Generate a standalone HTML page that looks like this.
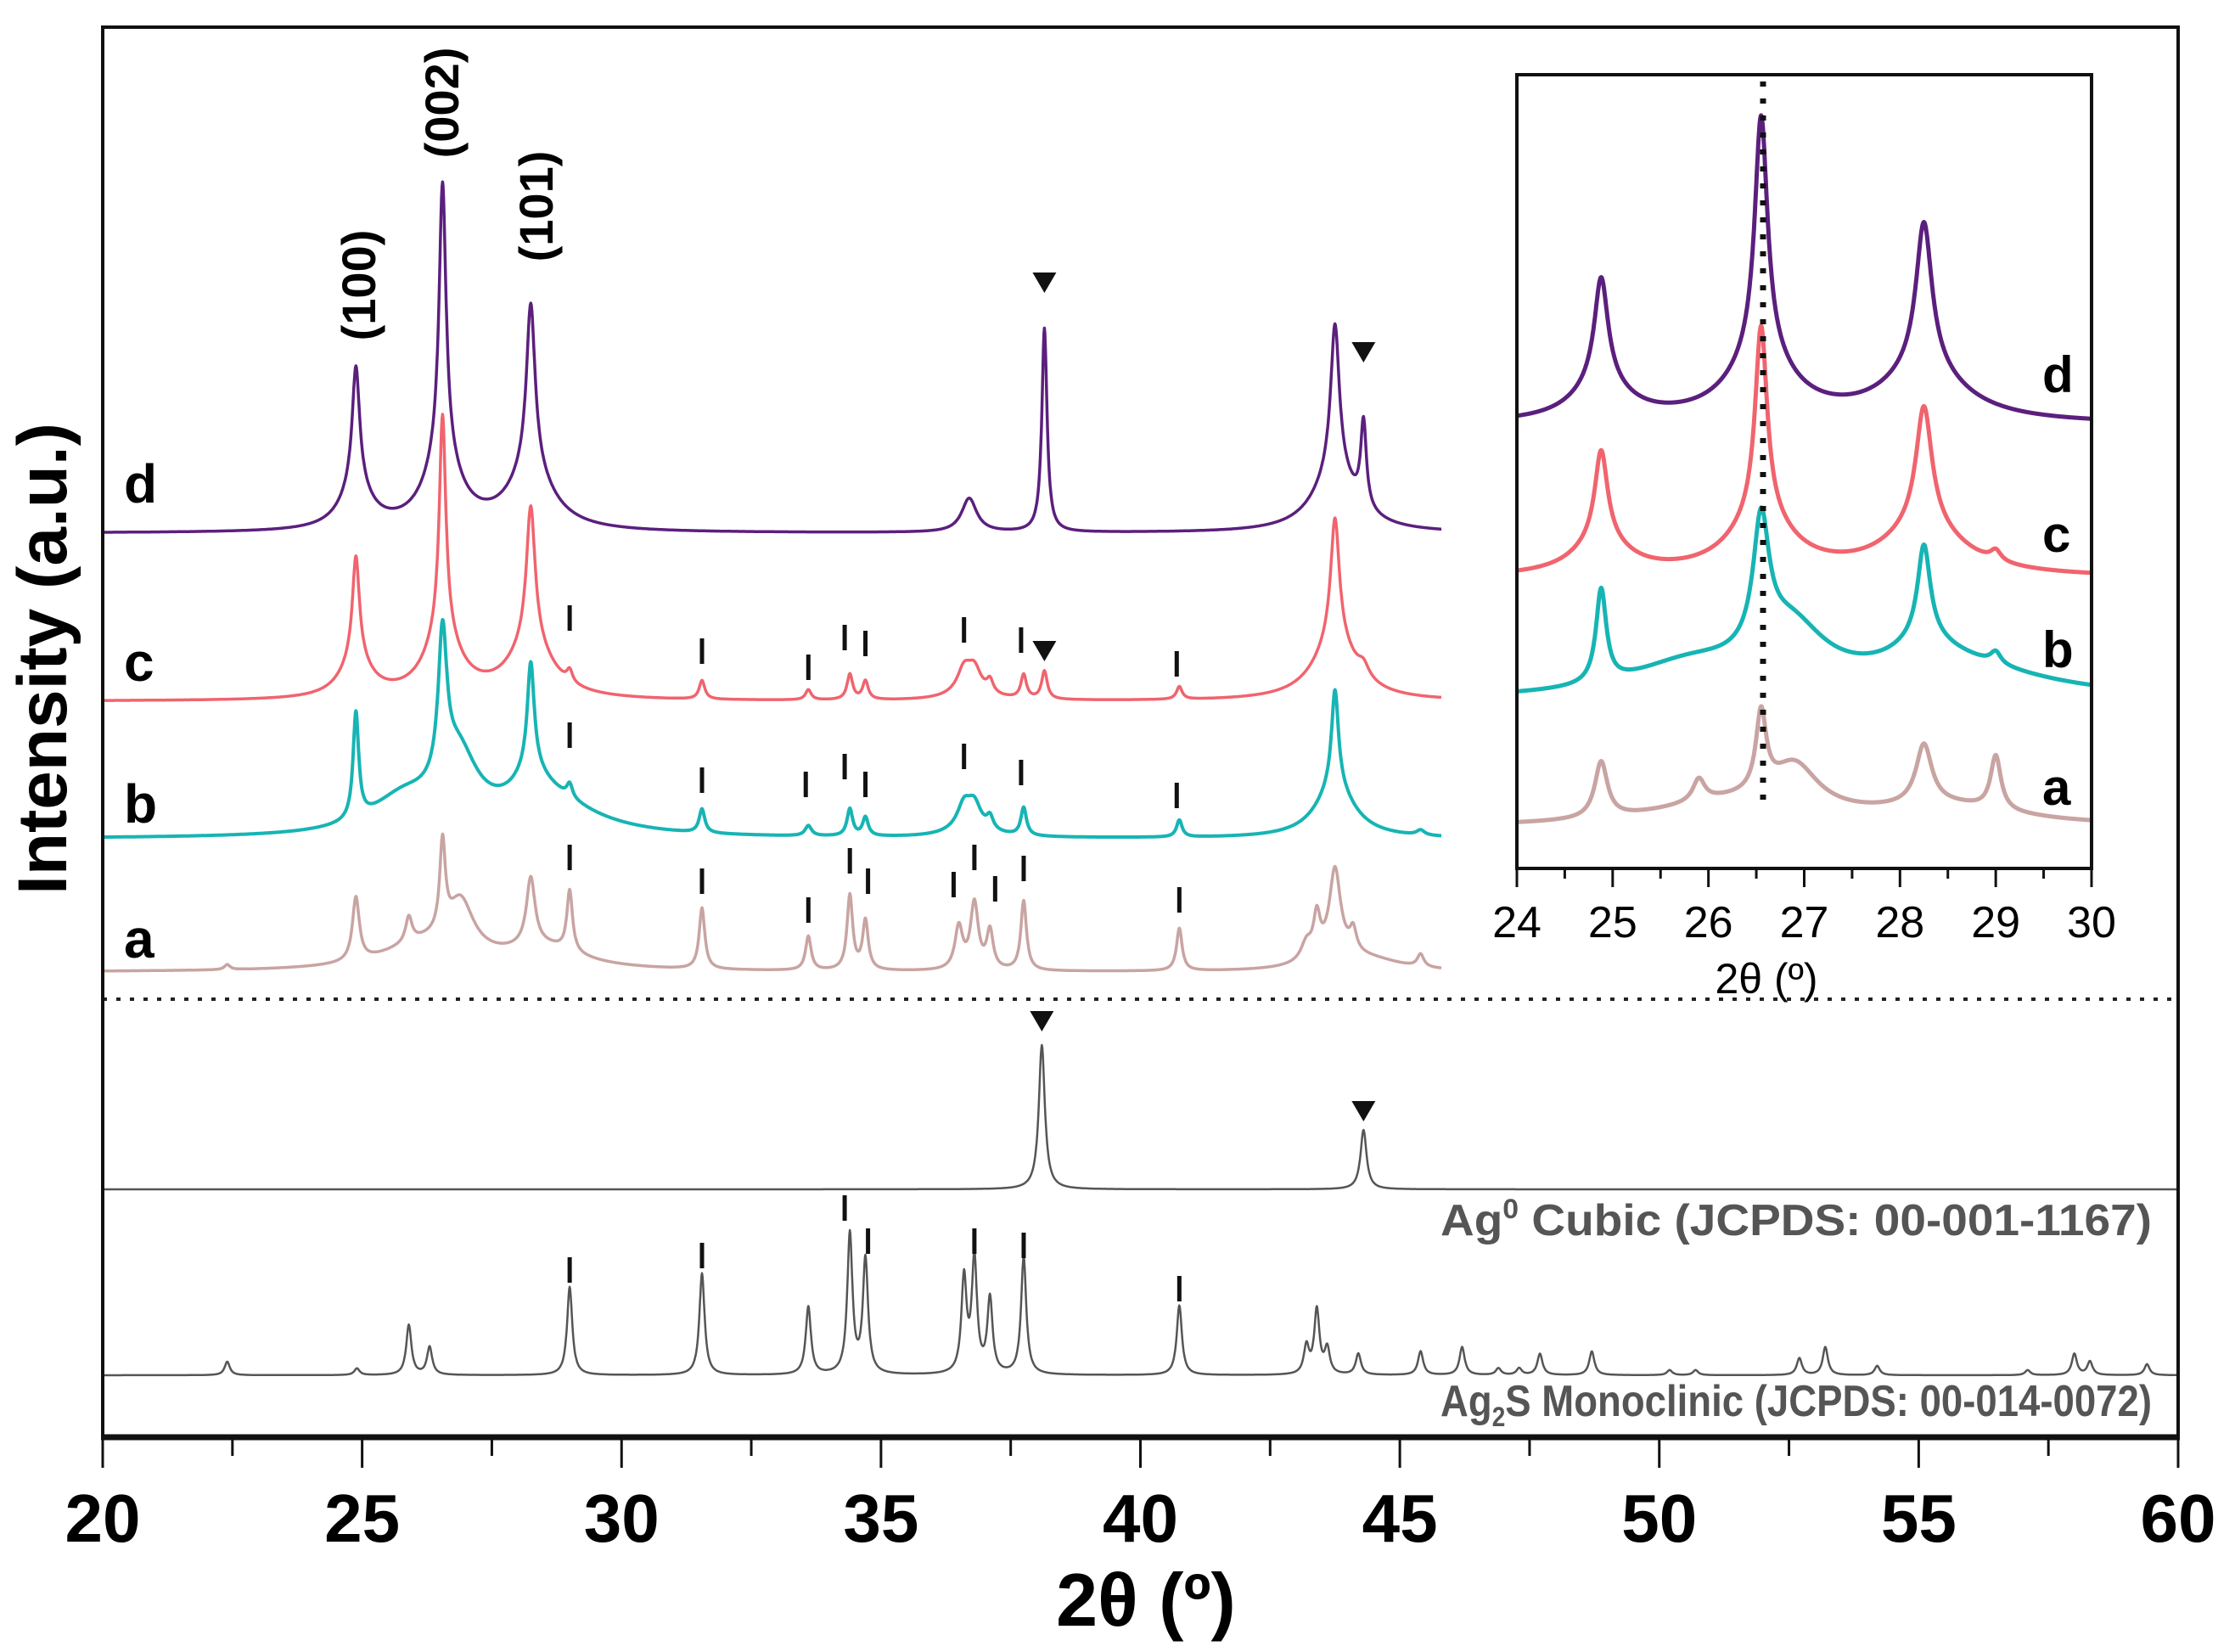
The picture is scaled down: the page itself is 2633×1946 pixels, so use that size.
<!DOCTYPE html>
<html><head><meta charset="utf-8"><style>
html,body{margin:0;padding:0;background:#fff;}
svg{display:block;font-family:"Liberation Sans",Arial,sans-serif;}
</style></head><body>
<svg id="chart" xmlns="http://www.w3.org/2000/svg" width="2633" height="1946" viewBox="0 0 2633 1946">
<rect x="0" y="0" width="2633" height="1946" fill="#fff"/>
<g id="main-series"></g>
<g id="marks"></g>
<line x1="121" y1="1177" x2="2566" y2="1177" stroke="#222" stroke-width="4" stroke-dasharray="5 11"/>
<rect x="121" y="32" width="2445" height="1661" fill="none" stroke="#111" stroke-width="4"/>
<line x1="119" y1="1693" x2="2568" y2="1693" stroke="#111" stroke-width="7"/>
<g id="xticks"></g>
<text x="1350" y="1915" font-size="88" font-weight="bold" text-anchor="middle">2θ (º)</text>
<text transform="translate(78,776) rotate(-90)" font-size="82" font-weight="bold" text-anchor="middle">Intensity (a.u.)</text>
<g font-size="64" font-weight="bold">
<text x="146" y="592">d</text>
<text x="146" y="802">c</text>
<text x="146" y="969">b</text>
<text x="146" y="1128">a</text>
</g>
<g font-size="56" font-weight="bold" text-anchor="middle">
<text transform="translate(442,336) rotate(-90)">(100)</text>
<text transform="translate(540,121) rotate(-90)">(002)</text>
<text transform="translate(651,243) rotate(-90)">(101)</text>
</g>
<text x="1697" y="1455" font-size="52" font-weight="bold" fill="#555" textLength="838" lengthAdjust="spacingAndGlyphs">Ag<tspan font-size="32" dy="-20">0</tspan><tspan dy="20"> Cubic (JCPDS: 00-001-1167)</tspan></text>
<text x="1697" y="1668" font-size="52" font-weight="bold" fill="#555" textLength="838" lengthAdjust="spacingAndGlyphs">Ag<tspan font-size="32" dy="12">2</tspan><tspan dy="-12">S Monoclinic (JCPDS: 00-014-0072)</tspan></text>
<g id="inset">
<rect x="1787" y="88" width="677" height="935" fill="#fff"/>
<g id="inset-series"></g>
<line x1="2077" y1="96" x2="2077" y2="955" stroke="#111" stroke-width="7" stroke-dasharray="6 14"/>
<rect x="1787" y="88" width="677" height="935" fill="none" stroke="#111" stroke-width="4"/>
<g id="inset-ticks"></g>
<text x="2081" y="1170" font-size="50" text-anchor="middle">2θ (º)</text>
<g font-size="60" font-weight="bold">
<text x="2406" y="462">d</text>
<text x="2406" y="650">c</text>
<text x="2406" y="786">b</text>
<text x="2406" y="948">a</text>
</g>
</g>
</svg>
<script>
// peak lists: [2theta, amplitude, fwhm]
const peaksD = [[24.88,140,0.17],[24.88,50,0.7],[26.55,320,0.16],[26.55,85,0.8],[28.25,195,0.2],[28.25,70,1.0],[36.7,40,0.35],[38.15,240,0.12],[43.75,175,0.2],[43.75,70,1.0],[44.3,100,0.13]];
const peaksC = [[24.88,120,0.16],[24.88,45,0.7],[26.55,255,0.15],[26.55,75,0.8],[28.25,160,0.2],[28.25,65,1.0],[29.0,14,0.13],[31.55,22,0.13],[33.6,12,0.13],[34.4,30,0.13],[34.7,22,0.13],[36.6,25,0.3],[36.8,25,0.3],[36.7,12,0.8],[37.1,15,0.15],[37.75,28,0.13],[38.15,33,0.13],[40.75,15,0.13],[43.75,145,0.2],[43.75,70,1.0],[44.3,14,0.25]];
const peaksB = [[24.88,125,0.13],[25.8,40,1.6],[26.55,170,0.2],[26.85,80,0.9],[28.25,125,0.16],[28.25,35,0.8],[28.6,40,2.2],[29.0,16,0.13],[31.55,28,0.13],[33.6,12,0.15],[34.4,32,0.13],[34.7,22,0.13],[36.6,25,0.3],[36.8,25,0.3],[36.7,14,0.8],[37.1,15,0.15],[37.75,33,0.13],[40.75,20,0.13],[43.75,115,0.16],[43.75,60,0.9],[45.4,6,0.18]];
const peaksA = [[22.4,6,0.13],[24.88,75,0.16],[25.9,30,0.15],[26.2,30,2.0],[26.55,105,0.13],[26.9,60,0.6],[28.25,80,0.2],[28.5,25,1.8],[29.0,72,0.13],[31.55,72,0.13],[33.6,40,0.13],[34.4,88,0.13],[34.7,58,0.13],[36.5,50,0.18],[36.8,78,0.18],[37.1,45,0.15],[37.75,82,0.13],[40.75,50,0.13],[43.2,20,0.25],[43.4,45,0.15],[43.75,95,0.25],[43.75,20,1.0],[44.1,25,0.15],[45.4,15,0.15],[44.5,10,1.5]];
const peaksCubic = [[38.1,170,0.14],[44.3,70,0.14]];
const peaksMono = [[22.4,16,0.12],[24.9,8,0.12],[25.9,59,0.12],[26.3,33,0.12],[29.0,104,0.12],[31.55,120,0.12],[33.6,80,0.12],[34.4,165,0.12],[34.7,135,0.12],[36.6,112,0.12],[36.8,134,0.12],[37.1,88,0.12],[37.75,138,0.12],[40.75,82,0.12],[43.2,33,0.12],[43.4,76,0.12],[43.6,30,0.12],[44.2,25,0.12],[45.4,28,0.12],[46.2,33,0.12],[46.9,8,0.12],[47.3,8,0.12],[47.7,25,0.12],[48.7,28,0.12],[50.2,6,0.12],[50.7,6,0.12],[52.7,20,0.12],[53.2,33,0.12],[54.2,11,0.12],[57.1,6,0.12],[58.0,25,0.12],[58.3,16,0.12],[59.4,13,0.12]];
// series baseline offsets (intensity units)
const offsetD = 1065, offsetC = 867, offsetB = 705, offsetA = 548, offsetCubic = 292, offsetMono = 73;
const insetOffsetD = 523, insetOffsetC = 342, insetOffsetB = 198, insetOffsetA = 48;
const insetScale = 0.88;
const xTickLabels = [20,25,30,35,40,45,50,55,60];
const insetTickLabels = [24,25,26,27,28,29,30];
// reference marker positions: [2theta, level above series baseline]
const marksC = [[29.0,83],[31.55,44],[33.6,25],[34.3,60],[34.7,53],[36.6,69],[37.7,57],[40.7,29]];
const marksB = [[29.0,107],[31.55,54],[33.55,49],[34.3,70],[34.7,49],[36.6,82],[37.7,63],[40.7,36]];
const marksA = [[29.0,120],[31.55,92],[33.6,58],[34.4,116],[34.75,92],[36.4,88],[36.8,120],[37.2,83],[37.75,107],[40.75,70]];
const marksMono = [[29.0,109],[31.55,126],[34.3,182],[34.75,143],[36.8,143],[37.75,138],[40.75,87]];
const trianglesD = [[38.15,296],[44.3,214]];
const trianglesC = [[38.15,60]];
const trianglesCubic = [[38.1,199],[44.3,93]];

const NS = 'http://www.w3.org/2000/svg';
const xMain = v => 121 + (v - 20) * 61.125;
const yMain = v => 1693 - v;
const xIn = v => 1787 + (v - 24) * 112.83;
const yIn = v => 1023 - v;
function intensity(peaks, t){
  let s = 0;
  for (const p of peaks){ const d = 2*(t-p[0])/p[2]; s += p[1]/(1+d*d); }
  return s;
}
function buildPath(peaks, off, x0, x1, step, xf, yf, scale){
  let d = '';
  for (let t = x0; t <= x1 + 1e-9; t += step){
    const v = off + scale * intensity(peaks, t);
    d += (d ? 'L' : 'M') + xf(t).toFixed(1) + ' ' + yf(v).toFixed(1);
  }
  return d;
}
const mainG = document.getElementById('main-series');
const mainDefs = [
  ['trace-a', peaksA, offsetA, '#c8a4a2', 45.8, 3.5],
  ['trace-b', peaksB, offsetB, '#17b4b4', 45.8, 4],
  ['trace-c', peaksC, offsetC, '#f0646e', 45.8, 3.5],
  ['trace-d', peaksD, offsetD, '#5b1f7d', 45.8, 3.5],
  ['ag-cubic-pattern', peaksCubic, offsetCubic, '#555', 60, 2.5],
  ['ag2s-monoclinic-pattern', peaksMono, offsetMono, '#555', 60, 2.5]
];
for (const s of mainDefs){
  const p = document.createElementNS(NS, 'path');
  p.setAttribute('d', buildPath(s[1], s[2], 20, s[4], 0.01, xMain, yMain, 1));
  p.setAttribute('fill', 'none');
  p.setAttribute('stroke', s[3]);
  p.setAttribute('stroke-width', s[5]);
  p.setAttribute('stroke-linejoin', 'round');
  
  
  mainG.appendChild(p);
}
const insetG = document.getElementById('inset-series');
const insetDefs = [
  ['inset-trace-a', peaksA, insetOffsetA, '#c8a4a2'],
  ['inset-trace-b', peaksB, insetOffsetB, '#17b4b4'],
  ['inset-trace-c', peaksC, insetOffsetC, '#f0646e'],
  ['inset-trace-d', peaksD, insetOffsetD, '#5b1f7d']
];
for (const s of insetDefs){
  const p = document.createElementNS(NS, 'path');
  p.setAttribute('d', buildPath(s[1], s[2], 24, 30, 0.005, xIn, yIn, insetScale));
  p.setAttribute('fill', 'none');
  p.setAttribute('stroke', s[3]);
  p.setAttribute('stroke-width', 5);
  p.setAttribute('stroke-linejoin', 'round');
  
  
  insetG.appendChild(p);
}
const marksG = document.getElementById('marks');
function addMarks(list, off, name){
  for (const m of list){
    const l = document.createElementNS(NS, 'line');
    const x = xMain(m[0]);
    l.setAttribute('x1', x); l.setAttribute('x2', x);
    l.setAttribute('y1', yMain(off + m[1])); l.setAttribute('y2', yMain(off + m[1] + 30));
    l.setAttribute('stroke', '#111'); l.setAttribute('stroke-width', 5);
    
    
    marksG.appendChild(l);
  }
}
addMarks(marksC, offsetC, 'ag2s-marker-c');
addMarks(marksB, offsetB, 'ag2s-marker-b');
addMarks(marksA, offsetA, 'ag2s-marker-a');
addMarks(marksMono, offsetMono, 'ag2s-marker-reference');
function addTriangles(list, off, name){
  for (const t of list){
    const x = xMain(t[0]), y = yMain(off + t[1]);
    const tr = document.createElementNS(NS, 'polygon');
    tr.setAttribute('points', (x-14)+','+(y-11)+' '+(x+14)+','+(y-11)+' '+x+','+(y+13));
    tr.setAttribute('fill', '#111');
    
    
    marksG.appendChild(tr);
  }
}
addTriangles(trianglesD, offsetD, 'ag-marker-d');
addTriangles(trianglesC, offsetC, 'ag-marker-c');
addTriangles(trianglesCubic, offsetCubic, 'ag-marker-reference');
const xt = document.getElementById('xticks');
for (let v = 20; v <= 60.001; v += 2.5){
  const major = Math.abs(v % 5) < 1e-6;
  const l = document.createElementNS(NS, 'line');
  l.setAttribute('x1', xMain(v)); l.setAttribute('x2', xMain(v));
  l.setAttribute('y1', 1693); l.setAttribute('y2', 1693 + (major ? 36 : 22));
  l.setAttribute('stroke', '#111'); l.setAttribute('stroke-width', 3);
  
  
  xt.appendChild(l);
}
for (const v of xTickLabels){
  const t = document.createElementNS(NS, 'text');
  t.setAttribute('x', xMain(v)); t.setAttribute('y', 1816);
  t.setAttribute('font-size', 80); t.setAttribute('font-weight', 'bold');
  t.setAttribute('text-anchor', 'middle');
  t.textContent = v;
  
  
  xt.appendChild(t);
}
const it = document.getElementById('inset-ticks');
for (let v = 24; v <= 30.001; v += 0.5){
  const major = Math.abs(v % 1) < 1e-6;
  const l = document.createElementNS(NS, 'line');
  l.setAttribute('x1', xIn(v)); l.setAttribute('x2', xIn(v));
  l.setAttribute('y1', 1023); l.setAttribute('y2', 1023 + (major ? 22 : 12));
  l.setAttribute('stroke', '#111'); l.setAttribute('stroke-width', 3);
  
  
  it.appendChild(l);
}
for (const v of insetTickLabels){
  const t = document.createElementNS(NS, 'text');
  t.setAttribute('x', xIn(v)); t.setAttribute('y', 1104);
  t.setAttribute('font-size', 52);
  t.setAttribute('text-anchor', 'middle');
  t.textContent = v;
  
  
  it.appendChild(t);
}
</script>
</body></html>
